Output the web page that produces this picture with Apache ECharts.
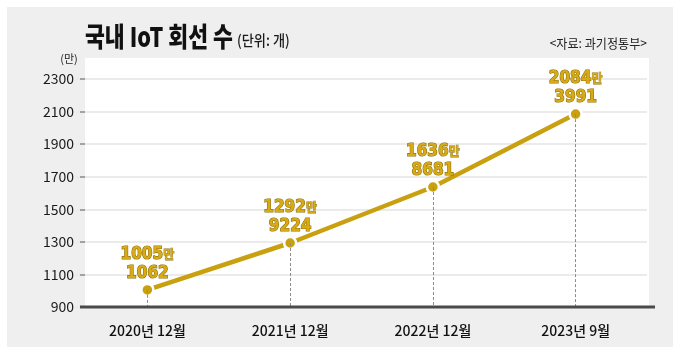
<!DOCTYPE html>
<html>
<head>
<meta charset="utf-8">
<script src="https://cdn.jsdelivr.net/npm/echarts@6/dist/echarts.min.js"></script>
<style>
html,body{margin:0;padding:0;background:#fff;}
#chart{width:681px;height:354px;}
</style>
</head>
<body>
<div id="chart"></div>
<script>
// ---- data ----
var categories = ['2020년 12월', '2021년 12월', '2022년 12월', '2023년 9월'];
var lineCounts = [10051062, 12929224, 16368681, 20843991]; // 회선 수 (개)
var yTicks = [900, 1100, 1300, 1500, 1700, 1900, 2100, 2300]; // 만 단위

var values = lineCounts.map(function (c) { return c / 10000; });
var GOLD = '#c9a00f';
var CJK = '"Noto Sans CJK KR", "Noto Sans", sans-serif';
var NARROW = '"Liberation Sans Narrow", "DejaVu Sans Condensed", "Noto Sans CJK KR", sans-serif';

var chart = echarts.init(document.getElementById('chart'), null, {renderer: 'canvas'});

var option = {
  backgroundColor: '#ffffff',
  animation: false,
  graphic: [
    {type: 'rect', z: -20, silent: true, shape: {x: 7, y: 7, width: 666, height: 340}, style: {fill: '#efefef'}},
    {type: 'rect', z: -19, silent: true, shape: {x: 85, y: 58, width: 564, height: 249}, style: {fill: '#ffffff'}},
    {type: 'text', x: 85, y: 37, scaleX: 0.8, style: {text: '국내 IoT 회선 수', font: '900 27px ' + CJK, fill: '#111', textAlign: 'left', textVerticalAlign: 'middle'}},
    {type: 'text', x: 237, y: 40, scaleX: 0.88, style: {text: '(단위: 개)', font: '500 15px ' + CJK, fill: '#1a1a1a', textAlign: 'left', textVerticalAlign: 'middle'}},
    {type: 'text', x: 647, y: 43, scaleX: 0.93, style: {text: '<자료: 과기정통부>', font: '13px ' + CJK, fill: '#222', textAlign: 'right', textVerticalAlign: 'middle'}},
    {type: 'text', x: 69, y: 59, style: {text: '(만)', font: '11px ' + CJK, fill: '#222', textAlign: 'center', textVerticalAlign: 'middle'}},
    {type: 'line', z: 10, silent: true, shape: {x1: 80, y1: 307, x2: 655, y2: 307}, style: {stroke: '#4a4a4a', lineWidth: 3}}
  ],
  grid: {left: 76, right: 34, top: 79, bottom: 47, containLabel: false},
  xAxis: {
    type: 'category',
    data: categories,
    boundaryGap: true,
    axisLine: {show: false},
    axisTick: {show: false},
    axisLabel: {color: '#111', fontSize: 14, fontWeight: 500, fontFamily: CJK, margin: 17}
  },
  yAxis: {
    type: 'value',
    min: yTicks[0],
    max: yTicks[yTicks.length - 1],
    interval: yTicks[1] - yTicks[0],
    offset: -9,
    axisLine: {show: false},
    axisTick: {show: true, length: 5, lineStyle: {color: '#8a8a8a', width: 1.5}},
    axisLabel: {color: '#1a1a1a', fontSize: 14, fontFamily: CJK, margin: 11, formatter: function (v) { return String(v); }},
    splitLine: {show: true, lineStyle: {color: '#ebebeb', width: 2}}
  },
  series: [
    {
      type: 'line',
      z: 1,
      data: values,
      symbol: 'none',
      lineStyle: {opacity: 0},
      silent: true,
      markLine: {
        silent: true,
        symbol: 'none',
        label: {show: false},
        lineStyle: {color: '#8c8c8c', type: [3, 2], width: 1},
        data: categories.map(function (c, i) {
          return [{coord: [c, values[i]]}, {coord: [c, yTicks[0]]}];
        })
      }
    },
    {
      type: 'line',
      z: 3,
      data: values,
      symbol: 'circle',
      symbolSize: 12,
      lineStyle: {color: GOLD, width: 4.5},
      itemStyle: {color: GOLD, borderColor: '#ffffff', borderWidth: 2.5},
      label: {
        show: true,
        position: 'top',
        distance: 0,
        lineHeight: 19,
        formatter: function (p) {
          var c = lineCounts[p.dataIndex];
          return '{n|' + Math.floor(c / 10000) + '}{m|만}\n{n|' + (c % 10000) + '}';
        },
        rich: {
          n: {fontFamily: NARROW, fontWeight: 'bold', fontSize: 17, color: '#d8aa16', textBorderColor: '#8f7410', textBorderWidth: 1.2, lineHeight: 19},
          m: {fontFamily: CJK, fontWeight: 'bold', fontSize: 12, color: '#d8aa16', textBorderColor: '#8f7410', textBorderWidth: 0.8, lineHeight: 19}
        }
      }
    }
  ]
};
chart.setOption(option);
</script>
</body>
</html>
